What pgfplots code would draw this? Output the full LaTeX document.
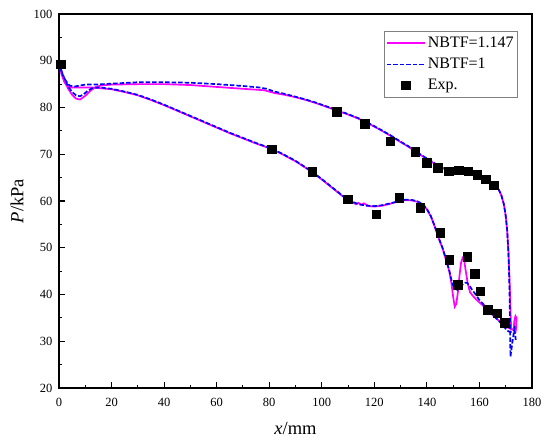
\documentclass[border=0pt]{standalone}
\usepackage{pgfplots}
\pgfplotsset{compat=1.18}
\usepackage{fontspec}
\setmainfont{Liberation Serif}
\definecolor{pinkc}{RGB}{255,0,255}
\definecolor{bluec}{RGB}{0,0,255}
\pgfplotsset{
  lineleg/.style={legend image code/.code={\draw[##1, line width=1.7bp] (0bp,0bp) -- (38bp,0bp);}},
  markleg/.style={legend image code/.code={\draw[##1, line width=0.4bp] plot coordinates {(19bp,0bp)};}},
}
\begin{document}
\begin{tikzpicture}
\useasboundingbox (-59bp,-57bp) rectangle (491bp,388bp);
\begin{axis}[
  at={(0,0)}, anchor=south west,
  scale only axis, width=473bp, height=374bp,
  xmin=0, xmax=180, ymin=20, ymax=100,
  xtick={0,20,...,180}, ytick={20,30,...,100},
  minor x tick num=1, minor y tick num=1,
  tick align=inside, xtick pos=bottom, ytick pos=left,
  major tick length=6bp, minor tick length=3.5bp,
  axis line style={line width=1.2bp},
  every tick/.style={line width=1.1bp, black},
  /pgf/number format/assume math mode=true,
  ticklabel style={font=\fontsize{12.5bp}{14bp}\selectfont},
  yticklabel style={xshift=-3bp},
  xticklabel style={yshift=-7bp},
  xlabel={\textit{x}/mm}, ylabel={\textit{P}/kPa},
  label style={font=\fontsize{18.5bp}{22bp}\selectfont},
  xlabel style={at={(axis description cs:0.5,-0.107)}, anchor=center},
  ylabel style={at={(axis description cs:-0.0888,0.5)}, anchor=center},
  legend style={at={(1,1)}, anchor=north east, xshift=-14bp, yshift=-17bp,
    draw=gray, line width=0.6bp, font=\fontsize{16bp}{19bp}\selectfont,
    inner xsep=2bp, inner ysep=4bp, row sep=5bp},
  legend cell align=left,
]
\addplot[pinkc, line width=1.7bp, mark=none, lineleg] coordinates {
(172.1,32.3)(171.9,35)(171.7,39)(171.4,44)(171.0,49.5)(170.5,54)(170.0,56.8)(169.3,59.3)(168.3,61.3)(167.0,62.8)(165.5,63.6)(163,64.4)(160,65.2)(157,65.8)(154,66.1)(151,66.3)(148,66.6)(146,67.0)(144,67.6)(142,68.3)(140,69.0)(138,69.7)(135.5,70.6)(133,71.6)(130,72.6)(126,74.0)(122,75.3)(118,76.5)(114,77.6)(110,78.5)(106,79.3)(102,80.1)(98,80.9)(94,81.6)(90,82.2)(86,82.7)(82,83.1)(78,83.7)(70,84.0)(60,84.4)(50,84.8)(40,85.0)(30,85.0)(20,84.9)(16,84.7)(14,84.4)(12,83.6)(10,82.5)(8,81.7)(6.5,81.9)(5,82.7)(3.5,84.0)(2,85.8)(1,87.3)(0.2,89.0)
(1,87)(2,85.5)(3,84.6)(4.5,84.3)(8,84.3)(12,84.3)(16,84.1)(20,83.9)(25,83.3)(30,82.6)(35,81.6)(40,80.5)(45,79.3)(50,78.1)(55,76.9)(60,75.7)(65,74.5)(70,73.4)(75,72.3)(81,71.1)(85,70.0)(90,68.5)(96,66.3)(100,64.6)(104,62.8)(108,61.0)(111,60.0)(113,59.3)(114,59.6)(115,59.2)(116,59.5)(118,58.9)(120,58.8)(123,59.0)(126,59.4)(129,59.9)(132,60.2)(134.5,60.1)(136.5,59.8)(138.5,59.2)(140,58.2)(141.5,56.7)(143,54.5)(144.5,52.0)(146,49.8)(147.5,47.0)(148.5,45.0)(149.3,42.5)(150,39.5)(150.6,37.4)(151.2,38.0)(151.8,40.5)(152.4,44.0)(153,46.8)(153.6,47.8)(154.2,47.2)(154.8,45.0)(155.5,42.5)(156.4,40.5)(157.5,39.7)(159,38.8)(161,37.8)(163,36.7)(165,35.6)(167,34.6)(169,33.6)(170.5,33.0)(172,32.6)(173,32.4)(173.3,34.5)(173.7,35.4)(174.1,35.0)(174.0,33)(173.7,31.8)
};
\addlegendentry{NBTF=1.147}
\addplot[bluec, line width=1.7bp, dash pattern=on 4.5bp off 2bp, mark=none, lineleg] coordinates {
(173.5,33.2)(173.2,32.4)(172.5,29.6)(171.8,26.7)(171.7,30)(171.6,35)(171.4,42)(171.1,48)(170.6,53.5)(170.0,56.8)(169.3,59.3)(168.3,61.3)(167.0,62.8)(165.5,63.7)(163,64.5)(160,65.2)(157,65.8)(154,66.2)(151,66.4)(148,66.7)(146,67.1)(144,67.7)(142,68.4)(140,69.1)(138,69.8)(135.5,70.7)(133,71.7)(130,72.7)(126,74.1)(122,75.4)(118,76.6)(114,77.7)(110,78.6)(106,79.4)(102,80.2)(98,81.0)(94,81.7)(90,82.3)(86,82.9)(82,83.4)(79,84.0)(76,84.3)(70,84.6)(60,85.0)(50,85.3)(40,85.4)(30,85.4)(20,85.1)(14,84.9)(10,84.9)(8,84.7)(6,84.5)(4,84.7)(2.5,85.8)(1,87.5)(0.2,89.3)
(1,87.8)(2,86.3)(3.5,84.5)(5,83.3)(6.5,82.6)(8,82.4)(9.5,82.9)(11,83.6)(12.5,84.1)(15,84.3)(20,84.0)(25,83.4)(30,82.7)(35,81.7)(40,80.6)(45,79.4)(50,78.2)(55,77.0)(60,75.8)(65,74.6)(70,73.5)(75,72.4)(81,71.2)(85,70.1)(90,68.6)(96,66.4)(100,64.7)(104,62.9)(108,61.1)(111,60.0)(114,59.3)(117,59.0)(120,58.9)(123,59.1)(126,59.5)(129,59.9)(132,60.3)(134.5,60.2)(136.5,59.9)(138.5,59.3)(140,58.3)(141.5,56.8)(143,54.6)(144.5,52.1)(146,49.9)(147.5,47.1)(148.5,45.2)(149.3,43.2)(150,41.9)(150.8,41.2)(151.6,41.0)(152.5,41.5)(153.5,42.1)(154.5,42.5)(155.3,42.5)(156.2,41.9)(157.2,41.0)(158.3,40.2)(160,38.8)(162,37.6)(164,36.3)(166,35.1)(168,34.0)(169.5,33.0)(170.5,32.3)(171.5,32.0)(172.5,32.0)(173.2,32.3)(173.6,31.5)(173.8,30.3)
};
\addlegendentry{NBTF=1}
\addplot[only marks, mark=square*, mark size=4.3bp, black, markleg] coordinates {
(0.6,89.3)(81.0,71.1)(96.4,66.3)(109.8,60.4)(120.7,57.2)(129.4,60.7)(137.5,58.6)(105.7,79.1)(116.3,76.5)(126.1,72.8)(135.5,70.5)(139.9,68.2)(144.2,67.1)(148.3,66.4)(152.1,66.6)(155.7,66.4)(159.2,65.6)(162.4,64.7)(165.4,63.4)(145.0,53.2)(148.5,47.4)(151.8,42.1)(155.3,48.1)(158.3,44.4)(160.3,40.7)(163.1,36.8)(166.7,36.0)(169.5,34.0)
};
\addlegendentry{Exp.}
\end{axis}
\end{tikzpicture}
\end{document}
